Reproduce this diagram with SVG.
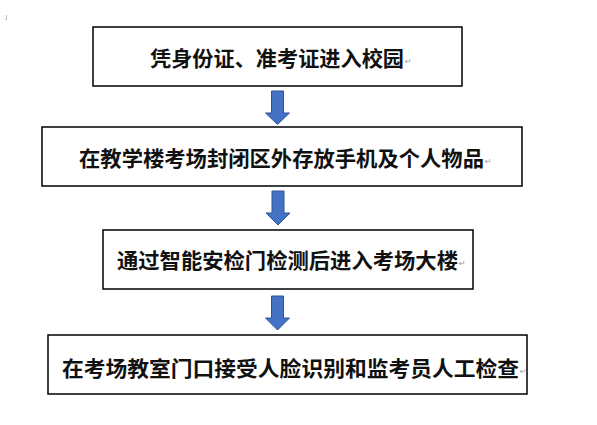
<svg xmlns="http://www.w3.org/2000/svg" width="597" height="425" viewBox="0 0 597 425">
<style>
.box{fill:#fff;stroke:#000;stroke-width:1.5}
.lbl{font-family:"Noto Sans CJK SC","Noto Sans CJK JP",sans-serif;font-size:21px;font-weight:bold;fill:#111;dominant-baseline:central}
.pm{font-family:"DejaVu Sans",sans-serif;font-size:8px;fill:#999}
.arr{fill:#4472C4;stroke:#2F5597;stroke-width:1}
</style>
<rect width="597" height="425" fill="#fff"/>
<path d="M6.5 15 V19.5 H5" fill="none" stroke="#aaa" stroke-width="0.8"/>
<g id="n1">
<rect class="box" x="93" y="27" width="369" height="59"/>
<text class="lbl" x="150" y="57" textLength="254" lengthAdjust="spacingAndGlyphs">凭身份证、准考证进入校园</text>
<text class="pm" x="405" y="64">↵</text>
</g>
<g id="n2">
<rect class="box" x="42" y="127" width="480" height="59"/>
<text class="lbl" x="79" y="157" textLength="405" lengthAdjust="spacingAndGlyphs">在教学楼考场封闭区外存放手机及个人物品</text>
<text class="pm" x="485" y="164">↵</text>
</g>
<g id="n3">
<rect class="box" x="103" y="230" width="370" height="59"/>
<text class="lbl" x="117" y="259" textLength="341" lengthAdjust="spacingAndGlyphs">通过智能安检门检测后进入考场大楼</text>
<text class="pm" x="459" y="266">↵</text>
</g>
<g id="n4">
<rect class="box" x="48" y="335" width="479" height="59"/>
<text class="lbl" x="62" y="367" textLength="457" lengthAdjust="spacingAndGlyphs">在考场教室门口接受人脸识别和监考员人工检查</text>
<text class="pm" x="520" y="374">↵</text>
</g>
<g id="connectors">
<path class="arr" d="M271.5 91 H283.5 V113 H289.5 L277.5 124.5 L265.5 113 H271.5 Z"/>
<path class="arr" d="M272 191 H284 V213 H290 L278 225 L266 213 H272 Z"/>
<path class="arr" d="M271.5 296 H283.5 V318 H289.5 L277.5 330 L265.5 318 H271.5 Z"/>
</g>
</svg>
